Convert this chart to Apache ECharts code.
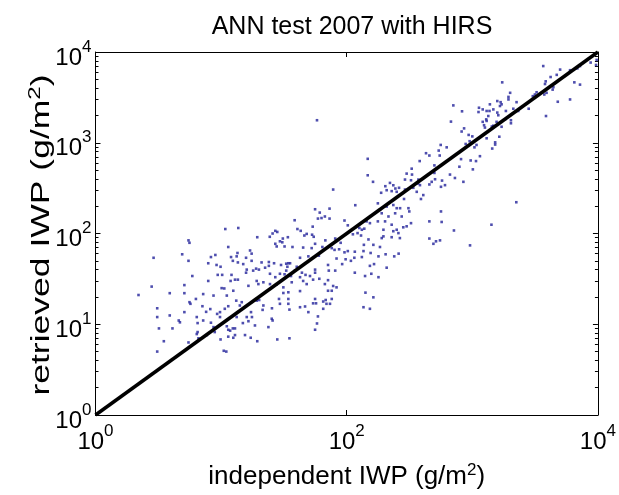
<!DOCTYPE html>
<html><head><meta charset="utf-8">
<script src="https://cdn.jsdelivr.net/npm/echarts@6/dist/echarts.min.js"></script>
<style>html,body{margin:0;padding:0;background:#fff}#c{width:619px;height:495px}</style>
</head><body><div id="c"></div>
<script>
const chartTitle = 'ANN test 2007 with HIRS';
const xAxisTitle = 'independent IWP (g/m';
const yAxisTitle = 'retrieved IWP (g/m';
const xTickValues = [1, 100, 10000];
const yTickValues = [1, 10, 100, 1000, 10000];
const oneToOneLine = [[1, 1], [10000, 10000]];

// [independent IWP, retrieved IWP] in g/m^2
const lowIWP = [
[2.2,21],[2.9,54],[2.8,26],[3.1,15],[3.1,12],[3.2,9.0],[3.1,5.0],[3.5,6.5],[3.9,22],[3.9,12.5],[4.1,9.0],[4.6,11],[4.7,10.5],[4.9,59],[5.1,13.6],[5.1,27],[5.1,22],[5.5,84],[5.6,79],[5.5,50],[5.6,17.5],[5.7,16.8],[5.5,6.3],[5.9,34],[6.3,19],[6.4,12],[6.5,10.3],[6.5,8.2],[6.4,7.8],[6.6,7.0],[10.5,5.1],[11,5.0],
[7.9,30],[7.2,21.5],[8.7,20.7],[10.1,25],[10.6,24.8],[11.1,20.7],[12.5,23.4],[16.5,26.5],[19.2,30],[19.8,27.7],
[7.1,15.8],[7.6,13.7],[8.2,14.7],[9.3,13],[9.8,13.6],[10.7,14.8],[11.4,15.8],[13.2,18.2],[14.1,16.1],[14.6,17.5],[19.2,18.2],[20.1,18.5],
[7.2,11],[8.3,10.4],[8.7,9.3],[9.8,12],[11.1,9.5],[11.4,8.7],[11.8,8.5],[12.4,9.0],[12.9,9.0],[13.3,12],[14.9,10.3],[16,12],[16.5,10.8],[17.3,13.6],[17.6,12],[18.6,9.7],
[7.7,7.6],[9.9,6.8],[11.4,7.3],[12.5,7.1],[12.9,7.6],[15.5,7.6],[17.2,7.1],[19.4,6.5],[8.9,8.2],
[8.3,55],[9.0,58],[12,55],[13.5,61],[13.3,56],[17,65],[17.5,60],[15.8,54],[12.4,50],[13.6,48],[17.5,50],[15,46],[9.9,43],[9.2,45],[7.9,47],
[9.4,35],[10.2,35],[12.1,35],[12.9,31],[11.9,30],[13.6,31],[15.8,37],[16,40],[18,39],[19,41],[20,40],
[10.8,112],[13.7,115],[19.4,91],[11.4,71]
];
const midIWP = [
[147,665],[147,438],[162,371],[78,305],[203,332],[221,361],[235,340],[244,313],[250,288],[228,293],[208,300],[188,281],[261,319],
[56,185],[61,170],[73,188],[67,154],[59,146],[63,148],[73,146],[117,205],[177,215],[208,198],[235,206],[250,190],[243,167],[215,154],[190,167],[184,182],
[38.5,140],[96,139],[102,123],[126,115],[132,110],[122,101],[112,98],[130,95],[138,113],[144,136],[153,130],[177,136],[202,136],[228,125],[250,110],[258,101],[235,106],[196,110],[196,93],[190,89],[228,91],[265,89],
[24.4,92],[25.7,100],[27,107],[28,104],[31,88],[29.4,82],[34,91],[30.7,80],[40.5,112],[43,107],[46,95],[48,99],[53.6,119],[53,97],[54.6,92],[56,77],[67.6,84],[81,88],[89.5,79],[149,86],[163,75],[137,75],[184,71],
[27,77],[27.7,72],[32,72],[37,71],[45,70],[52.6,69],[64,71],[76,69],[80,66],[87,67],[96,62],[102,64],[116,63],[136,64],[155,61],[179,56],[204,59],[239,56],[259,60],
[21,48],[24,48.5],[24,44],[26.4,47],[30,45],[33,46.5],[34.3,47],[35.4,47],[33.7,43],[40,43],[42.5,54],[49.5,56],[60,57],[71,45],[83,53],[98,52],[108,50],[115,54],[132,55],[153,44],[165,46],[208,42],
[22.4,42],[24.5,36],[27,33],[29.4,36],[32,35.5],[33,39],[36,34],[38.7,39],[42.5,33],[44,37],[47,35],[51,34],[56,40],[56,37],[72,39],[81,39],[92,46],[116,37],[140,34],[157,36],[179,33],
[21.7,29],[24.5,27.7],[27.7,27.5],[31.3,25.5],[36.5,29],[42.5,23.2],[45,30],[48,27.7],[54,31],[60.5,31.7],[67,27.7],[71,30.6],[78,26.4],[83,25.5],[71,23.4],[76,23.4],[141,22.3],[163,19.8],
[21.7,16.1],[25.4,15],[28.9,19],[31.3,22.1],[34.3,22.5],[34.3,19],[29.4,16.8],[34.3,16.8],[35,14.5],[42.5,15.4],[46.6,15.7],[49.5,13.6],[56,19],[54,17],[57,17],[65,17.8],[68,18.5],[69,16.8],[73.6,16.8],[76,19],[65,14.8],[59,12.2],[136,15.4],[153,14.8],
[21.4,14.4],[23.8,9.3],[25.3,11.5],[25.7,11],[56,8.7],[58,10.2],[28,6.8],[35,7.0],
[58,1770]
];
const highIWP = [
[8750,7650],[9660,7200],[7200,7000],[6860,6600],[6000,6300],[5000,6400],[4700,5600],[4200,5300],[3670,7000],[3840,4750],[3790,4440],[4420,4100],[4360,3850],[3900,3550],[3740,3400],[3250,3600],[3150,3400],[3030,3260],[2810,2370],[2250,2800],[2320,2240],[2000,3550],[1940,3000],[1940,3200],[1730,4630],[1710,2650],[1680,2800],[1660,2540],[1580,2880],[1580,2150],[1470,2330],[1380,2650],[1370,2240],[1300,2240],[1340,1970],[1290,1810],[1300,1740],[1210,2330],[1210,1700],[1240,1560],[1120,2180],[1130,2430],[1260,1470],[1430,1510],[1470,1540],[1710,1500],[1820,1810],[2030,1770],[2030,1640],[1610,2010],[1850,2240],[2120,2370],[1560,1700],
[706,2580],[828,2220],[676,1710],[860,1440],[822,1330],[935,1220],[952,1040],[885,970],[1000,1175],[1080,946],[1040,890],[1300,1120],[1520,1010],[1520,955],[1440,863],[1640,1165],[1150,711],[970,638],[1070,628],[789,544],[1010,509],[813,660],[625,890],[560,946],[540,820],[550,723],[455,723],[428,767],[381,628],[499,563],[499,465],[329,518],[331,446],[300,457],[325,386],[291,393],[383,341],[339,319],[370,356],[407,265],[390,240],[361,288],[291,305],[286,240],[266,190],[310,190],[315,175],[274,154],[325,130],[282,117],[300,120],[455,136],[563,175],[570,134],[455,88],[490,77],[514,82],[553,84],[714,108],[959,74],[1420,125],[2240,221],[3860,1970],[4790,2830],[6000,3000],[6490,4630],[7200,4370],[9770,8180],[455,347],[475,371],[505,396],[664,446],[727,409],[849,371],[574,383],[606,341],[563,327],[372,393]
];

const FONT = 'Liberation Sans';
const richLbl = {
  b: {fontSize: 24, fontFamily: FONT, color: '#000', padding: [12, 0, 0, 0]},
  s: {fontSize: 17, fontFamily: FONT, color: '#000', padding: [0, 0, 10, 0]}
};
const richName = {
  t: {fontSize: 26, fontFamily: FONT, color: '#000'},
  s: {fontSize: 17, fontFamily: FONT, color: '#000', padding: [0, 0, 13, 0]}
};
const richYName = {
  t: {fontSize: 25, fontFamily: FONT, color: '#000'},
  s: {fontSize: 17, fontFamily: FONT, color: '#000', padding: [0, 0, 13, 0]}
};
function expLabel(v) {
  const e = Math.round(Math.log10(v));
  return '{b|10}{s|' + e + '}';
}
const axisLineStyle = {show: true, lineStyle: {color: '#000', width: 1}};
function logAxis(extra) {
  return Object.assign({
    type: 'log', logBase: 10, min: 1, max: 10000,
    axisLine: axisLineStyle,
    splitLine: {show: false},
    axisTick: {show: true, inside: true, length: 5, lineStyle: {color: '#000', width: 1}},
  }, extra);
}

const chart = echarts.init(document.getElementById('c'), null, {renderer: 'canvas'});
chart.setOption({
  animation: false,
  backgroundColor: '#fff',
  title: {
    text: chartTitle, left: 347, top: 10, textAlign: 'center',
    textStyle: {fontSize: 25, fontWeight: 'normal', fontFamily: FONT, color: '#000'}
  },
  grid: {left: 95.5, right: 21, top: 52, bottom: 76, containLabel: false},
  graphic: [{
    type: 'text', x: 42, y: 235, rotation: Math.PI / 2, scaleX: 1.42, scaleY: 1,
    style: {
      text: '{t|' + yAxisTitle + '}{s|2}{t|)}', rich: richYName,
      align: 'center', verticalAlign: 'middle', fill: '#000'
    }
  }],
  xAxis: [
    logAxis({
      position: 'bottom', interval: 2,
      axisLabel: {show: true, margin: 3, formatter: expLabel, rich: richLbl},
      name: '{t|' + xAxisTitle + '}{s|2}{t|)}', nameLocation: 'middle', nameGap: 47,
      nameTextStyle: {rich: richName}
    }),
    logAxis({position: 'top', interval: 2, axisLabel: {show: false}})
  ],
  yAxis: [
    logAxis({
      position: 'left', interval: 1,
      minorTick: {show: true, splitNumber: 9, length: 3, lineStyle: {color: '#000', width: 1}},
      axisLabel: {show: true, margin: 4, formatter: expLabel, rich: richLbl}
    }),
    logAxis({
      position: 'right', interval: 1,
      minorTick: {show: true, splitNumber: 9, length: 3, lineStyle: {color: '#000', width: 1}},
      axisLabel: {show: false}
    })
  ],
  series: [
    {
      type: 'scatter', xAxisIndex: 0, yAxisIndex: 0,
      data: lowIWP.concat(midIWP, highIWP),
      symbol: 'rect', symbolSize: 2.6,
      itemStyle: {color: '#22229a'}, z: 2
    },
    {
      type: 'line', xAxisIndex: 0, yAxisIndex: 0,
      data: oneToOneLine, symbol: 'none',
      lineStyle: {color: '#000', width: 3.5}, z: 3
    }
  ]
});
</script></body></html>
